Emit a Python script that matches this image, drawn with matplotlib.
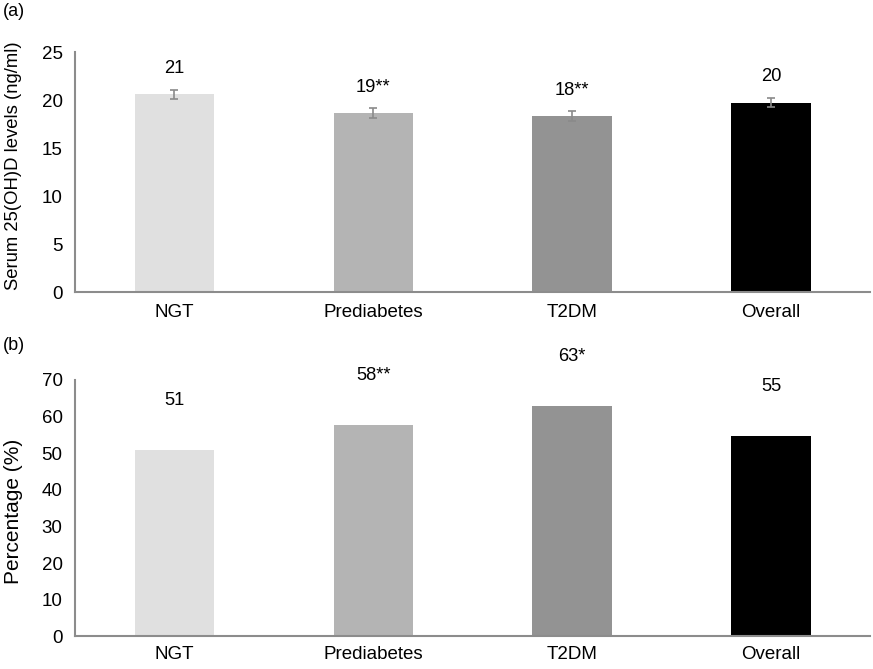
import numpy as np
import matplotlib.pyplot as plt

plt.rcParams['font.family'] = ['Liberation Sans', 'DejaVu Sans']

groups = ['NGT', 'Prediabetes', 'T2DM', 'Overall']
colors = ['#e0e0e0', '#b4b4b4', '#939393', '#000000']

# panel (a): mean serum 25(OH)D
vitd_mean = [20.6, 18.65, 18.35, 19.75]
vitd_err = [0.5, 0.5, 0.5, 0.5]
vitd_labels = ['21', '19**', '18**', '20']

# panel (b): percentage deficient
pct = [50.8, 57.8, 62.8, 54.6]
pct_labels = ['51', '58**', '63*', '55']

fig = plt.figure(figsize=(8.73, 6.69), dpi=100)
ax1 = fig.add_axes([0.086, 0.5635, 0.911, 0.3585])
ax2 = fig.add_axes([0.086, 0.049, 0.911, 0.383])

x = np.arange(len(groups))

def style(ax, ymax, step, pad):
    ax.set_xlim(-0.5, 3.5)
    ax.set_ylim(0, ymax)
    ax.set_yticks(np.arange(0, ymax + 1, step))
    ax.set_xticks(x)
    ax.set_xticklabels(groups)
    for s in ['top', 'right']:
        ax.spines[s].set_visible(False)
    for s in ['left', 'bottom']:
        ax.spines[s].set_color('#8c8c8c')
        ax.spines[s].set_linewidth(1.5)
    ax.tick_params(length=0, labelsize=13.5)
    ax.tick_params(axis='x', pad=pad)
    ax.tick_params(axis='y', pad=9)

ax1.bar(x, vitd_mean, width=0.4, color=colors,
        yerr=vitd_err, error_kw=dict(ecolor='#8a8a8a', elinewidth=1.2, capsize=3, capthick=1.2))
for xi, v, lab in zip(x, vitd_mean, vitd_labels):
    ax1.text(xi, v + 2.7, lab, ha='center', va='center', fontsize=13.2)
style(ax1, 25, 5, 8.6)

ax2.bar(x, pct, width=0.4, color=colors)
for xi, v, lab in zip(x, pct, pct_labels):
    ax2.text(xi, v + 13.5, lab, ha='center', va='center', fontsize=13.2)
style(ax2, 70, 10, 7.2)

fig.text(0.016, 0.752, 'Serum 25(OH)D levels (ng/ml)', rotation=90,
         ha='center', va='center', fontsize=13.3)
fig.text(0.016, 0.2354, 'Percentage (%)', rotation=90,
         ha='center', va='center', fontsize=15)

fig.text(0.003, 0.995, '(a)', fontsize=13, va='top')
fig.text(0.003, 0.497, '(b)', fontsize=13, va='top')

fig.savefig('out.png', dpi=100)
